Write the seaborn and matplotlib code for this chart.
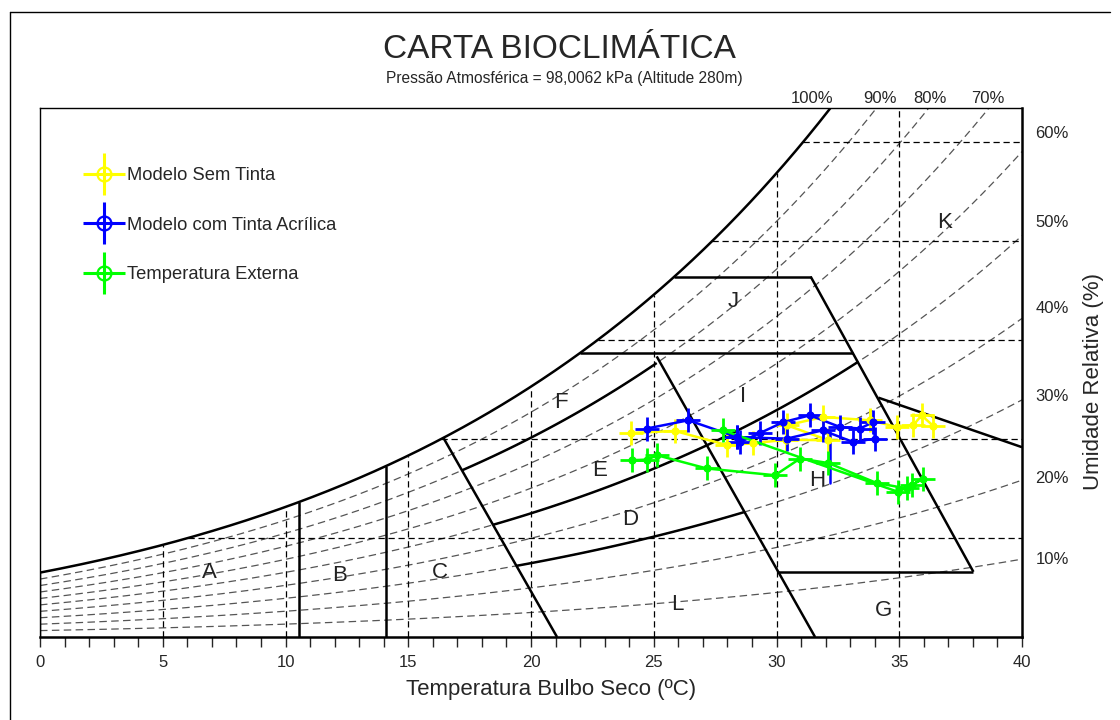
import numpy as np
import matplotlib
matplotlib.use("Agg")
import matplotlib.pyplot as plt
import seaborn as sns
import pandas as pd
from matplotlib.lines import Line2D
from matplotlib.legend_handler import HandlerTuple

sns.set_style("white")
plt.rcParams["font.family"] = ["Liberation Sans", "DejaVu Sans"]

# ---------------- chart constants ----------------
P_ATM = 98.0062  # kPa
T_MIN, T_MAX = 0, 40
W_TOP = 32.05  # g/kg (top of chart)
rh_levels = [0.1, 0.2, 0.3, 0.4, 0.5, 0.6, 0.7, 0.8, 0.9]
grid_t = [5, 10, 15, 20, 25, 30, 35]
grid_w = [6, 12, 18, 24, 30]

# right-side RH labels (at right edge) and top labels
right_labels = ["10%", "20%", "30%", "40%", "50%", "60%"]
right_label_w = [4.7, 9.6, 14.6, 19.9, 25.1, 30.5]
top_labels = ["100%", "90%", "80%", "70%"]
top_label_t = [31.45, 34.2, 36.25, 38.6]

# zone letters
zone_names = ["A", "B", "C", "D", "E", "F", "G", "H", "I", "J", "K", "L"]
zone_t = [6.92, 12.22, 16.29, 24.03, 22.81, 21.22, 34.34, 31.65, 28.64, 28.23, 36.86, 25.95]
zone_w = [3.93, 3.75, 3.93, 7.14, 10.10, 14.20, 1.63, 9.50, 14.58, 20.33, 25.10, 1.94]

# zone boundaries (straight segments): (T1, W1, T2, W2)
seg_vert_a = (10.55, 0.0)          # vertical line up to saturation
seg_vert_b = (14.10, 0.0)
seg_c_diag = (16.42, 12.10, 21.06, 0.0)
seg_diag2 = (25.12, 17.00, 31.57, 0.0)
seg_long_diag = (31.39, 21.84, 38.02, 3.95)
seg_h_low = (30.07, 3.95, 38.02, 3.95)
seg_k = (34.15, 14.50, 40.0, 11.50)
seg_h172 = (17.20, 33.12)   # W level, T end (starts at saturation)
seg_h218 = (21.84, 31.39)
# RH-curve boundaries: (phi, T start, T end)
rh_bounds = [(0.8, 17.18, 25.12), (0.5, 18.45, 33.33), (0.3, 19.42, 28.70)]

# ---------------- measured series ----------------
sem_t = [24.06, 25.87, 28.00, 29.05, 30.40, 32.11, 30.42, 31.91, 33.81, 34.90, 35.57, 35.91, 36.39]
sem_w = [12.36, 12.48, 11.62, 11.74, 11.95, 11.92, 12.83, 13.33, 13.13, 12.72, 12.83, 13.43, 12.78]

acr_t = [24.71, 26.41, 28.38, 28.51, 29.33, 30.28, 31.36, 32.59, 33.40, 33.94, 34.01, 33.13, 31.88, 30.42, 28.40]
acr_w = [12.63, 13.13, 12.12, 11.81, 12.36, 13.02, 13.43, 12.72, 12.63, 13.02, 12.02, 11.81, 12.52, 12.02, 12.10]
acr_bar_t = [32.18, 32.18]
acr_bar_w = [12.45, 9.32]

ext_t = [24.10, 24.74, 25.14, 27.16, 29.94, 30.96, 32.11, 34.08, 35.30, 35.51, 35.98, 34.96, 27.83]
ext_w = [10.71, 10.75, 11.01, 10.21, 9.80, 10.81, 10.54, 9.33, 9.00, 9.20, 9.60, 8.79, 12.52]

series_names = ["Modelo Sem Tinta", "Modelo com Tinta Acrílica", "Temperatura Externa"]
series_colors = ["#ffff00", "#0000ff", "#00ff00"]


def w_of(T, phi):
    T = np.asarray(T, dtype=float)
    pws = 0.61094 * np.exp(17.625 * T / (T + 243.04))
    pv = phi * pws
    return 622.0 * pv / (P_ATM - pv)


_tt = np.linspace(-5, 45, 5001)
_ww = w_of(_tt, 1.0)


def t_sat(w):
    return float(np.interp(w, _ww, _tt))


fig = plt.figure(figsize=(11.2, 7.2), dpi=100)
ax = fig.add_axes([40 / 1120, 1 - 637 / 720, 982 / 1120, 529 / 720])
ax.set_xlim(T_MIN, T_MAX)
ax.set_ylim(0, W_TOP)

# RH dashed curves
tt = np.linspace(0, 40, 600)
for phi in rh_levels:
    ax.plot(tt, w_of(tt, phi), color="#555555", lw=0.9, dashes=(6, 3.5), zorder=1)

# saturation curve
ax.plot(tt, w_of(tt, 1.0), color="black", lw=1.8, zorder=3)

# dashed grid lines bounded by saturation curve
for t in grid_t:
    ax.plot([t, t], [0, min(float(w_of(t, 1.0)), W_TOP)], color="black", lw=0.9,
            dashes=(5, 3), zorder=2)
for w in grid_w:
    ax.plot([t_sat(w), T_MAX], [w, w], color="black", lw=0.9, dashes=(5, 3), zorder=2)

# zone boundaries
zk = dict(color="black", lw=1.8, zorder=3, solid_capstyle="butt")
ax.plot([0, 0], [0, float(w_of(0, 1.0))], color="black", lw=1.0, zorder=3)
for tv, wv in (seg_vert_a, seg_vert_b):
    ax.plot([tv, tv], [wv, float(w_of(tv, 1.0))], **zk)
for s in (seg_c_diag, seg_diag2, seg_long_diag, seg_h_low, seg_k):
    ax.plot([s[0], s[2]], [s[1], s[3]], **zk)
for wv, te in (seg_h172, seg_h218):
    ax.plot([t_sat(wv), te], [wv, wv], **zk)
for phi, t0, t1 in rh_bounds:
    tr = np.linspace(t0, t1, 100)
    ax.plot(tr, w_of(tr, phi), **zk)

# zone letters
for n, t, w in zip(zone_names, zone_t, zone_w):
    ax.text(t, w, n, fontsize=16, ha="center", va="center", color="#222222", zorder=4)

# data series
frames = []
for name, ts, ws in zip(series_names, [sem_t, acr_t, ext_t], [sem_w, acr_w, ext_w]):
    frames.append(pd.DataFrame({"T": ts, "W": ws, "serie": name, "ordem": range(len(ts))}))
df = pd.concat(frames, ignore_index=True)
pal = dict(zip(series_names, series_colors))
for name in series_names:
    sub = df[df.serie == name]
    c = pal[name]
    sns.lineplot(data=sub, x="T", y="W", sort=False, estimator=None, color=c,
                 lw=1.8, marker="+", markersize=17, markeredgewidth=2.0,
                 markeredgecolor=c, ax=ax, zorder=5, legend=False)
    sns.scatterplot(data=sub, x="T", y="W", color=c, s=22, marker="o",
                    edgecolor=c, linewidth=1.2, ax=ax, zorder=6, legend=False)
    if name == series_names[1]:
        ax.plot(acr_bar_t, acr_bar_w, color=c, lw=1.8, zorder=5)

# axes styling
for side in ["left", "top"]:
    ax.spines[side].set_linewidth(1.0)
for side in ["right", "bottom"]:
    ax.spines[side].set_linewidth(1.8)
for sp in ax.spines.values():
    sp.set_color("black")
ax.set_xticks(range(0, 41))
ax.set_xticklabels([str(v) if v % 5 == 0 else "" for v in range(0, 41)], fontsize=12)
ax.tick_params(axis="x", direction="out", length=7, width=1, pad=6, bottom=True)
ax.set_yticks([])
ax.set_xlabel("")
ax.set_ylabel("")
fig.text(551 / 1120, 1 - 690 / 720, "Temperatura Bulbo Seco (ºC)", fontsize=16,
         ha="center", va="center")

for lab, w in zip(right_labels, right_label_w):
    ax.text(40.55, w, lab, fontsize=12, ha="left", va="center", clip_on=False)
for lab, t in zip(top_labels, top_label_t):
    ax.text(t, W_TOP + 0.55, lab, fontsize=12, ha="center", va="center", clip_on=False)

fig.text(1093 / 1120, 1 - 381 / 720, "Umidade Relativa (%)", rotation=90, fontsize=16,
         ha="center", va="center")
fig.text(559 / 1120, 1 - 50 / 720, "CARTA BIOCLIMÁTICA", fontsize=24, ha="center", va="center")
fig.text(564 / 1120, 1 - 79 / 720, "Pressão Atmosférica = 98,0062 kPa (Altitude 280m)",
         fontsize=11.2, ha="center", va="center")

# legend
handles = []
for c in series_colors:
    h1 = Line2D([], [], color=c, lw=1.8, marker="+", markersize=30, markeredgewidth=2.2)
    h2 = Line2D([], [], color=c, lw=0, marker="o", markersize=10, markerfacecolor="none",
                markeredgewidth=1.6)
    handles.append((h1, h2))
ax.legend(handles, series_names, handler_map={tuple: HandlerTuple(ndivide=1, pad=0)},
          loc="upper left", bbox_to_anchor=(0.0407, 0.902), frameon=False, fontsize=13.2,
          handlelength=1.8, labelspacing=1.78, handletextpad=0.38, borderaxespad=0.0)

# outer frame of the figure
fig.add_artist(plt.Line2D([10 / 1120, 10 / 1120], [0, 1 - 12 / 720], color="black", lw=1.0))
fig.add_artist(plt.Line2D([10 / 1120, 1110 / 1120], [1 - 12 / 720, 1 - 12 / 720], color="black", lw=1.0))

fig.savefig("out.png", dpi=100)
